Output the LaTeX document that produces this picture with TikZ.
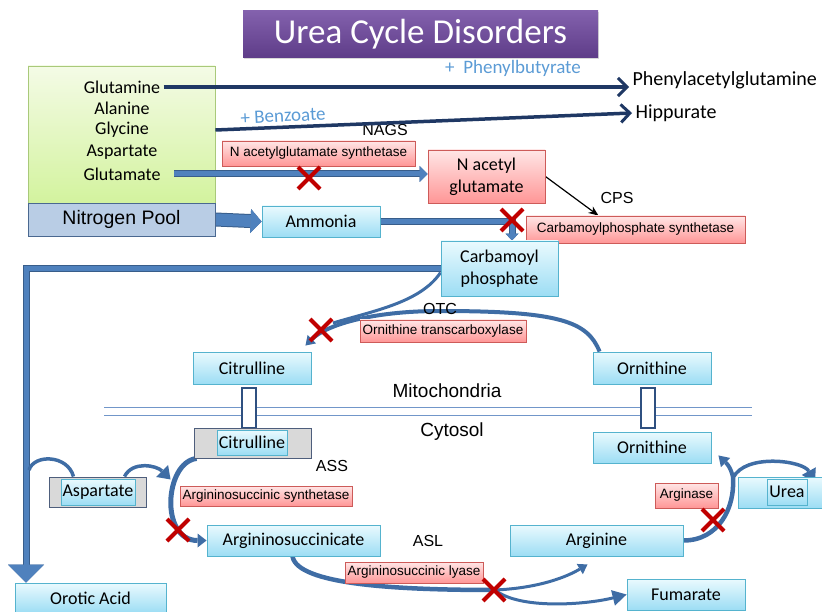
\documentclass[tikz,border=0pt]{standalone}
\usepackage{fontspec}
\setmainfont{Carlito}
\newfontfamily\arialfont{Liberation Sans}
\usetikzlibrary{arrows.meta,shapes.misc,shadows,calc,positioning}

\definecolor{cyantop}{HTML}{EAFAFE}
\definecolor{cyanbot}{HTML}{9CDDF4}
\definecolor{cyanedge}{HTML}{55B3CE}
\definecolor{redtop}{HTML}{FFE6E6}
\definecolor{redbot}{HTML}{FF9696}
\definecolor{rededge}{HTML}{CD5B59}
\definecolor{greentop}{HTML}{F4FBE6}
\definecolor{greenbot}{HTML}{D3F39E}
\definecolor{greenedge}{HTML}{A9C97A}
\definecolor{poolfill}{HTML}{B9CDE5}
\definecolor{pooledge}{HTML}{4A6890}
\definecolor{greyfill}{HTML}{D9D9D9}
\definecolor{greyedge}{HTML}{4E5E7C}
\definecolor{titletop}{HTML}{8361AD}
\definecolor{titlebot}{HTML}{5E3C88}
\definecolor{flowblue}{HTML}{4F81BD}
\definecolor{flowedge}{HTML}{385D8A}
\definecolor{cycblue}{HTML}{3F6DA5}
\definecolor{navy}{HTML}{1F3864}
\definecolor{drugblue}{HTML}{5B9BD5}
\definecolor{xred}{HTML}{C00000}
\definecolor{memblue}{HTML}{7196C9}
\definecolor{porteredge}{HTML}{2F5080}

\begin{document}
\begin{tikzpicture}[x=1pt, y=-1pt,
        box/.style = {draw, line width=0.9pt, inner sep=1pt, align=center,
                      font=\fontsize{18}{22}\selectfont,
                      drop shadow={shadow xshift=1.2pt, shadow yshift=-1.2pt, opacity=0.3}},
        cyanbox/.style = {box, draw=cyanedge, top color=cyantop, bottom color=cyanbot},
        redbox/.style = {box, draw=rededge, top color=redtop, bottom color=redbot},
        enzyme/.style = {redbox, line width=0.8pt, font=\arialfont\fontsize{13.5}{15}\selectfont},
        greybox/.style = {draw=greyedge, fill=greyfill, line width=0.9pt, inner sep=0pt},
        abbrev/.style = {font=\arialfont\fontsize{16}{18}\selectfont},
        compart/.style = {font=\arialfont\fontsize{19}{22}\selectfont},
        aminoacid/.style = {font=\fontsize{18}{21}\selectfont},
        product/.style = {anchor=west, font=\fontsize{20}{23}\selectfont},
        drugname/.style = {text=drugblue, font=\fontsize{19}{22}\selectfont},
        flow/.style = {draw=flowblue, line width=5pt, preaction={draw=flowedge, line width=7pt}},
        bigflow/.style = {draw=flowblue, line width=12pt, preaction={draw=flowedge, line width=14pt}},
        cyc/.style = {draw=cycblue, line width=4pt},
        drug/.style = {draw=navy, line width=3.5pt, -{Straight Barb[length=9pt, width=18pt, line width=3pt]}},
        blocked/.style = {cross out, draw=xred, line width=4pt, minimum size=18pt, inner sep=0pt},
        membrane/.style = {draw=memblue, line width=1pt},
        porter/.style = {draw=porteredge, fill=white, line width=1.5pt, inner sep=0pt}]
    \pgfdeclarelayer{bg}    % connectors go below the boxes
    \pgfsetlayers{bg,main}
    \useasboundingbox (0,0) rectangle (822,612);

    % title
    \node[box, draw=none, top color=titletop, bottom color=titlebot, text=white,
          font=\fontsize{35}{40}\selectfont, minimum width=355, minimum height=47] (title) at (420.5,34.5) {Urea Cycle Disorders};

    % nitrogen pool
    \node[box, draw=greenedge, top color=greentop, bottom color=greenbot, minimum width=187, minimum height=137] (aa) at (121.5,134.5) {};
    \node[aminoacid] (gln) at (122,87) {Glutamine};
    \node[aminoacid] (ala) at (122,108) {Alanine};
    \node[aminoacid] (gly) at (122,130) {Glycine};
    \node[aminoacid] (aspt) at (122,152) {Aspartate};
    \node[aminoacid] (glu) at (122,174) {Glutamate};
    \node[box, draw=pooledge, fill=poolfill, font=\arialfont\fontsize{19.5}{22}\selectfont,
          minimum width=187, minimum height=33] (npool) at (121.5,219.5) {Nitrogen Pool};
    \node[cyanbox, minimum width=118, minimum height=31] (amm) at (321,221.5) {Ammonia};

    % drugs
    \node[drugname] (pbut) at (513,68) {+\ \ Phenylbutyrate};
    \node[drugname, rotate=3] (benz) at (283,116) {+ Benzoate};
    \node[product] (pag) at (629,80) {Phenylacetylglutamine};
    \node[product] (hip) at (632,113) {Hippurate};

    % NAGS and CPS
    \node[abbrev] (nags) at (385,130) {NAGS};
    \node[enzyme, minimum width=193, minimum height=25] (nagsl) at (318.5,153.5) {N acetylglutamate synthetase};
    \node[redbox, minimum width=117, minimum height=53] (nag) at (486.5,176.5) {N acetyl\\glutamate};
    \node[abbrev] (cps) at (617,198) {CPS};
    \node[enzyme, minimum width=219, minimum height=27] (cpsl) at (635.5,229.5) {Carbamoylphosphate synthetase};
    \node[cyanbox, minimum width=117, minimum height=55] (cp) at (499.5,268.5) {Carbamoyl\\phosphate};
    \node[cyanbox, minimum width=151, minimum height=30] (oro) at (90.5,598) {Orotic Acid};

    % mitochondria
    \node[abbrev] (otc) at (440,309) {OTC};
    \node[enzyme, minimum width=166, minimum height=22] (otcl) at (443,331) {Ornithine transcarboxylase};
    \node[cyanbox, minimum width=118, minimum height=32] (cim) at (252,368) {Citrulline};
    \node[cyanbox, minimum width=118, minimum height=32] (orm) at (652,368) {Ornithine};
    \node[compart] (mito) at (447,391) {Mitochondria};
    \draw[membrane] (104,407) -- (752,407);
    \draw[membrane] (104,415) -- (752,415);
    \node[porter, minimum width=14, minimum height=40] (tcit) at (249,408) {};
    \node[porter, minimum width=14, minimum height=40] (torn) at (648,408) {};
    \node[compart] (cyto) at (452,432) {Cytosol};

    % cytosol
    \node[greybox, minimum width=117, minimum height=30] (cicg) at (252.5,443) {};
    \node[cyanbox, minimum width=70, minimum height=25] (cic) at (252,442.5) {Citrulline};
    \node[cyanbox, minimum width=118, minimum height=31] (orc) at (652,447.5) {Ornithine};
    \node[abbrev] (ass) at (332,466) {ASS};
    \node[enzyme, minimum width=172, minimum height=20] (assl) at (266,496) {Argininosuccinic synthetase};
    \node[greybox, minimum width=97, minimum height=30] (aspg) at (97.5,492) {};
    \node[cyanbox, minimum width=74, minimum height=26] (aspin) at (98,492) {Aspartate};
    \node[cyanbox, minimum width=173, minimum height=31] (asa) at (293.5,540.5) {Argininosuccinicate};
    \node[abbrev] (asl) at (428,541) {ASL};
    \node[enzyme, minimum width=138, minimum height=21] (asll) at (414,572.5) {Argininosuccinic lyase};
    \node[cyanbox, minimum width=173, minimum height=31] (arg) at (596.5,540.5) {Arginine};
    \node[cyanbox, minimum width=118, minimum height=31] (fum) at (686,594.5) {Fumarate};
    \node[enzyme, minimum width=63, minimum height=25] (argl) at (686.5,495.5) {Arginase};
    \node[cyanbox, minimum width=92, minimum height=31] (ureab) at (784,492.5) {};
    \node[cyanbox, minimum width=40, minimum height=26] (urea) at (787,492) {Urea};

    \coordinate (leftrail) at (26,267);
    \coordinate (railhump) at (29,470);
    \coordinate (aslsplit) at (495,590);
    \coordinate (ureasplit) at (733,478);

    % scavenger routes and glutamate start inside the green box
    \draw[drug] (gln.east) -- (gln.east -| pag.west);
    \draw[drug] (aa.east |- gly) -- (hip.west);
    \draw[flow, -{Triangle[length=8pt, width=16pt, line width=0pt]}] ([xshift=10pt]glu.east) -- (nag.west |- glu.east);

    \begin{pgfonlayer}{bg}
        % into the cycle
        \draw[bigflow, -{Triangle[length=11pt, width=24pt, line width=0pt]}] (npool.east) -- (amm.west);
        \draw[flow, -{Triangle[length=7pt, width=13pt, line width=0pt]}] (amm.east) -| ([xshift=12.5pt]cp.north);
        \draw[flow, -{Triangle[length=18pt, width=36pt, line width=0pt]}] (cp.west) -| (oro.north -| leftrail);
        \draw[line width=1.2pt, -{Stealth[length=10pt, width=8pt]}] (nag.east) -- ([xshift=-37pt]cpsl.north);
        % OTC
        \draw[cyc, -{Triangle[length=9pt, width=12pt, line width=0pt]}] ([xshift=7pt]orm.north west)
            .. controls +(-12,-30) and +(120,0) .. (440,311)
            .. controls +(-70,0) and +(20,-20) .. ($(cim.north east)+(-6,-6)$);
        \draw[cyc, line width=3pt] ([yshift=-4pt]cp.west) .. controls +(-20,30) and +(40,-12) .. (333,323);
        % ASS
        \draw[cyc, line width=3.5pt] (railhump) .. controls +(5,-16) and +(-6,-22) .. ([xshift=-24pt]aspg.north);
        \draw[cyc, line width=3.5pt, -{Triangle[length=12pt, width=17pt, line width=0pt]}] ([xshift=27pt]aspg.north)
            .. controls +(8,-16) and +(-14,-14) .. ($(cicg.south west)+(-23,21)$);
        \draw[cyc, line width=5pt, -{Triangle[length=9pt, width=14pt, line width=0pt]}] ([xshift=3pt]cicg.south west)
            .. controls +(-32,4) and +(-47,0) .. (asa.west);
        % ASL
        \draw[cyc, line width=4.5pt] ([xshift=-1pt]asa.south) .. controls +(5,28) and +(-100,0) .. (aslsplit);
        \draw[cyc, line width=3pt, -{Triangle[length=9pt, width=12pt, line width=0pt]}] (aslsplit)
            .. controls +(45,-2) and +(-20,12) .. ($(arg.south)+(-9,8)$);
        \draw[cyc, line width=3pt, -{Triangle[length=14pt, width=16pt, line width=0pt]}] (aslsplit)
            .. controls +(25,20) and +(-40,10) .. (fum.west);
        % arginase
        \draw[cyc, line width=4.5pt] (arg.east) .. controls +(35,0) and +(2,30) .. (ureasplit);
        \draw[cyc, -{Triangle[length=10pt, width=13pt, line width=0pt]}] (ureasplit)
            .. controls +(-2,-12) and +(6,6) .. ($(orc.south east)+(7,-8)$);
        \draw[cyc, line width=3.5pt, -{Triangle[length=13pt, width=16pt, line width=0pt]}] (ureasplit)
            .. controls +(12,-25) and +(-12,-22) .. ($(ureab.north)+(31,6)$);
    \end{pgfonlayer}

    % enzyme defects
    \node[blocked] (xnags) at (309,178) {};
    \node[blocked] (xcps) at (512,220) {};
    \node[blocked] (xotc) at (321,330) {};
    \node[blocked] (xass) at (178,530) {};
    \node[blocked] (xasl) at (494,590) {};
    \node[blocked] (xarg) at (713,520) {};
\end{tikzpicture}
\end{document}
